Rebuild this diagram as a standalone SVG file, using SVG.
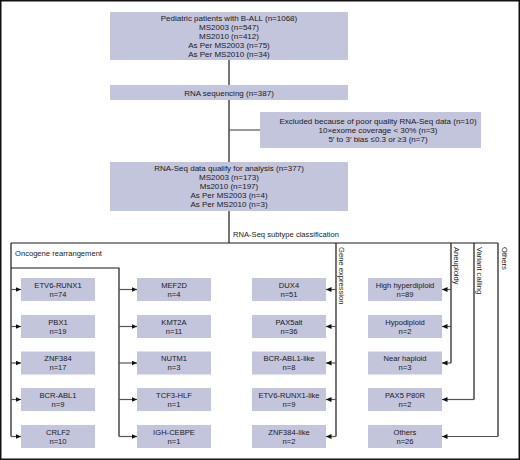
<svg xmlns="http://www.w3.org/2000/svg" width="520" height="460" viewBox="0 0 520 460">
<style>
text{font-family:"Liberation Sans",Arial,sans-serif;fill:#1a1a1a}
.t{font-size:8px;text-anchor:middle}
.b{font-size:7.6px;text-anchor:middle}
.l{font-size:7.6px}
.box{fill:#c3c5dd}
.ln{stroke:#1a1a1a;stroke-width:1.2;fill:none}
.br{stroke:#555;stroke-width:1.2;fill:none}
</style>
<defs>
<marker id="ah" markerUnits="userSpaceOnUse" markerWidth="6" markerHeight="6" refX="5.5" refY="2.5" orient="auto">
<path d="M0,0 L5.5,2.5 L0,5 z" fill="#111"/>
</marker>
</defs>
<rect x="0.75" y="0.75" width="518.5" height="458.5" fill="#fff" stroke="#111" stroke-width="1.5"/>

<g id="connectors">
<path class="ln" d="M229,60 V85 M229,100 V162 M229,211 V243"/>
<path class="br" d="M229,130 H260"/>
<path class="ln" d="M11,243 H498"/>
<path class="ln" d="M11,243 V436.5 M11,268 H119 V436.5"/>
<path class="ln" d="M336,243 V436.5 M451,243 V363 M474,243 V399.5 M498,243 V436.5"/>
<g class="br" marker-end="url(#ah)">
<path d="M11,289.5 H21"/>
<path d="M11,326.5 H21"/>
<path d="M11,363 H21"/>
<path d="M11,399.5 H21"/>
<path d="M11,436.5 H21"/>
<path d="M119,289.5 H137"/>
<path d="M119,326.5 H137"/>
<path d="M119,363 H137"/>
<path d="M119,399.5 H137"/>
<path d="M119,436.5 H137"/>
<path d="M336,289.5 H326"/>
<path d="M336,326.5 H326"/>
<path d="M336,363 H326"/>
<path d="M336,399.5 H326"/>
<path d="M336,436.5 H326"/>
<path d="M451,289.5 H442"/>
<path d="M451,326.5 H442"/>
<path d="M451,363 H442"/>
<path d="M474,399.5 H442"/>
<path d="M498,436.5 H442"/>
</g>
<text class="l" x="233" y="237">RNA-Seq subtype classification</text>
<text class="l" x="15" y="255.5">Oncogene rearrangement</text>
<text class="l" transform="translate(338.5,247) rotate(90)">Gene expression</text>
<text class="l" transform="translate(453.5,247) rotate(90)">Aneuploidy</text>
<text class="l" transform="translate(477,247) rotate(90)">Variant calling</text>
<text class="l" transform="translate(501.5,247) rotate(90)">Others</text>
</g>

<g id="patients">
<rect class="box" x="110" y="12" width="238" height="48"/>
<text class="t" x="229" y="21">Pediatric patients with B-ALL (n=1068)</text>
<text class="t" x="229" y="30">MS2003 (n=547)</text>
<text class="t" x="229" y="39">MS2010 (n=412)</text>
<text class="t" x="229" y="48">As Per MS2003 (n=75)</text>
<text class="t" x="229" y="57">As Per MS2010 (n=34)</text>
</g>
<g id="rnaseq">
<rect class="box" x="110" y="85" width="238" height="15"/>
<text class="t" x="229" y="95.5">RNA sequencing (n=387)</text>
</g>
<g id="excluded">
<rect class="box" x="260" y="112" width="221" height="36"/>
<text class="t" x="378" y="124">Excluded because of poor quality RNA-Seq data (n=10)</text>
<text class="t" x="378" y="133">10×exome coverage &lt; 30% (n=3)</text>
<text class="t" x="378" y="141.5">5′ to 3′ bias ≤0.3 or ≥3 (n=7)</text>
</g>
<g id="qualify">
<rect class="box" x="110" y="162" width="238" height="49"/>
<text class="t" x="229" y="170.5">RNA-Seq data qualify for analysis (n=377)</text>
<text class="t" x="229" y="179.5">MS2003 (n=173)</text>
<text class="t" x="229" y="188.5">Ms2010 (n=197)</text>
<text class="t" x="229" y="197.5">As Per MS2003 (n=4)</text>
<text class="t" x="229" y="206.5">As Per MS2010 (n=3)</text>
</g>

<g id="etv6-runx1"><rect class="box" x="21" y="278" width="74" height="23"/><text class="b" x="58" y="287.8">ETV6-RUNX1</text><text class="b" x="58" y="296.5">n=74</text></g>
<g id="pbx1"><rect class="box" x="21" y="315" width="74" height="23"/><text class="b" x="58" y="324.8">PBX1</text><text class="b" x="58" y="333.5">n=19</text></g>
<g id="znf384"><rect class="box" x="21" y="351.5" width="74" height="23"/><text class="b" x="58" y="361.3">ZNF384</text><text class="b" x="58" y="370">n=17</text></g>
<g id="bcr-abl1"><rect class="box" x="21" y="388" width="74" height="23"/><text class="b" x="58" y="397.8">BCR-ABL1</text><text class="b" x="58" y="406.5">n=9</text></g>
<g id="crlf2"><rect class="box" x="21" y="425" width="74" height="23"/><text class="b" x="58" y="434.8">CRLF2</text><text class="b" x="58" y="443.5">n=10</text></g>

<g id="mef2d"><rect class="box" x="137" y="278" width="74" height="23"/><text class="b" x="174" y="287.8">MEF2D</text><text class="b" x="174" y="296.5">n=4</text></g>
<g id="kmt2a"><rect class="box" x="137" y="315" width="74" height="23"/><text class="b" x="174" y="324.8">KMT2A</text><text class="b" x="174" y="333.5">n=11</text></g>
<g id="nutm1"><rect class="box" x="137" y="351.5" width="74" height="23"/><text class="b" x="174" y="361.3">NUTM1</text><text class="b" x="174" y="370">n=3</text></g>
<g id="tcf3-hlf"><rect class="box" x="137" y="388" width="74" height="23"/><text class="b" x="174" y="397.8">TCF3-HLF</text><text class="b" x="174" y="406.5">n=1</text></g>
<g id="igh-cebpe"><rect class="box" x="137" y="425" width="74" height="23"/><text class="b" x="174" y="434.8">IGH-CEBPE</text><text class="b" x="174" y="443.5">n=1</text></g>

<g id="dux4"><rect class="box" x="252" y="278" width="74" height="23"/><text class="b" x="289" y="287.8">DUX4</text><text class="b" x="289" y="296.5">n=51</text></g>
<g id="pax5alt"><rect class="box" x="252" y="315" width="74" height="23"/><text class="b" x="289" y="324.8">PAX5alt</text><text class="b" x="289" y="333.5">n=36</text></g>
<g id="bcr-abl1-like"><rect class="box" x="252" y="351.5" width="74" height="23"/><text class="b" x="289" y="361.3">BCR-ABL1-like</text><text class="b" x="289" y="370">n=8</text></g>
<g id="etv6-runx1-like"><rect class="box" x="252" y="388" width="74" height="23"/><text class="b" x="289" y="397.8">ETV6-RUNX1-like</text><text class="b" x="289" y="406.5">n=9</text></g>
<g id="znf384-like"><rect class="box" x="252" y="425" width="74" height="23"/><text class="b" x="289" y="434.8">ZNF384-like</text><text class="b" x="289" y="443.5">n=2</text></g>

<g id="high-hyperdiploid"><rect class="box" x="368" y="278" width="74" height="23"/><text class="b" x="405" y="287.8">High hyperdiploid</text><text class="b" x="405" y="296.5">n=89</text></g>
<g id="hypodiploid"><rect class="box" x="368" y="315" width="74" height="23"/><text class="b" x="405" y="324.8">Hypodiploid</text><text class="b" x="405" y="333.5">n=2</text></g>
<g id="near-haploid"><rect class="box" x="368" y="351.5" width="74" height="23"/><text class="b" x="405" y="361.3">Near haploid</text><text class="b" x="405" y="370">n=3</text></g>
<g id="pax5-p80r"><rect class="box" x="368" y="388" width="74" height="23"/><text class="b" x="405" y="397.8">PAX5 P80R</text><text class="b" x="405" y="406.5">n=2</text></g>
<g id="others"><rect class="box" x="368" y="425" width="74" height="23"/><text class="b" x="405" y="434.8">Others</text><text class="b" x="405" y="443.5">n=26</text></g>
</svg>
